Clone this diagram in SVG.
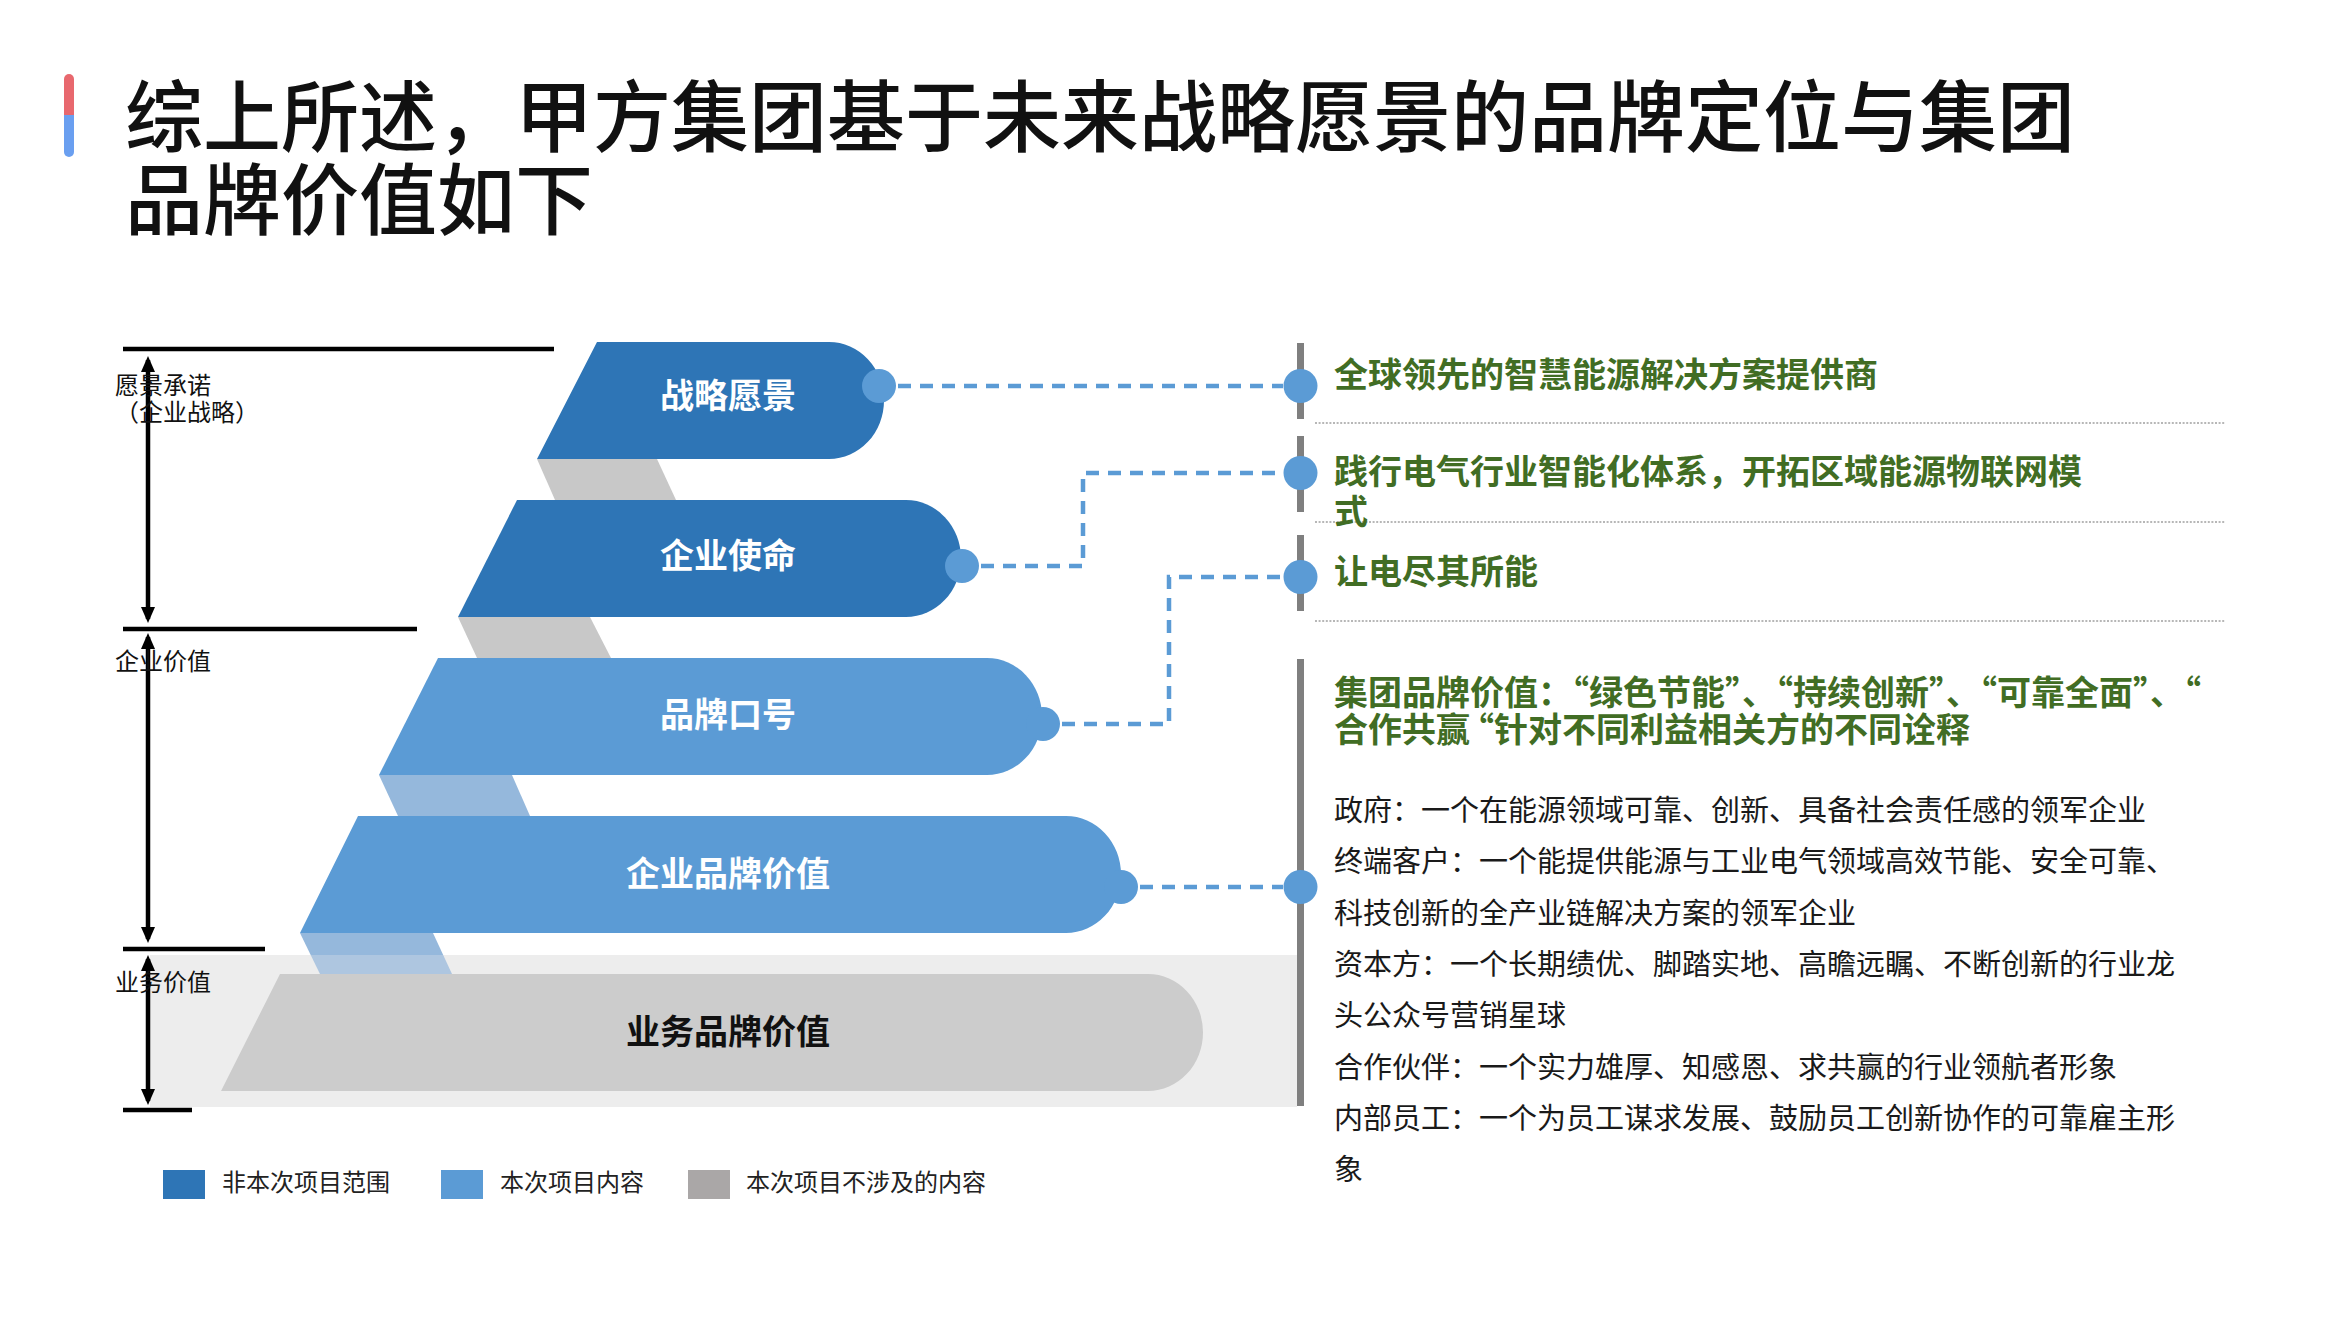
<svg xmlns="http://www.w3.org/2000/svg" width="2339" height="1317" viewBox="0 0 2339 1317">
<defs>
<style>
text{font-family:"Noto Sans CJK SC","Noto Sans",sans-serif;}
.title{font-size:78px;font-weight:500;fill:#111111;}
.lbl{font-size:24px;fill:#111111;}
.node-t{font-size:34px;font-weight:700;fill:#ffffff;text-anchor:middle;}
.node-dk{font-size:34px;font-weight:700;fill:#111111;text-anchor:middle;}
.green{font-size:34px;font-weight:700;fill:#416d24;}
.body{font-size:29px;fill:#1a1a1a;}
.leg{font-size:24px;fill:#222222;}
.dark{fill:#2e75b6;}
.light{fill:#5b9bd5;}
.grey{fill:#cccccc;}
.band-g{fill:#c8c8c8;}
.band-b{fill:#95b8dc;}
.dot{fill:#5b9bd5;}
.dash{fill:none;stroke:#5b9bd5;stroke-width:4.5;stroke-dasharray:13 9;}
.sep{stroke:#a0a0a0;stroke-width:1.6;stroke-dasharray:2 1.6;}
.vbar{stroke:#7f7f7f;stroke-width:7;}
.blk{stroke:#000000;stroke-width:4.5;}
.arr{stroke:#000000;stroke-width:4.5;marker-start:url(#ah);marker-end:url(#ah);}
</style>
<marker id="ah" viewBox="0 0 16 14" refX="12" refY="7" markerWidth="16" markerHeight="14" markerUnits="userSpaceOnUse" orient="auto-start-reverse">
<path d="M0,0 L16,7 L0,14 Z" fill="#000000"/>
</marker>
<linearGradient id="acc" x1="0" y1="0" x2="0" y2="1">
<stop offset="0" stop-color="#e8686e"/>
<stop offset="0.5" stop-color="#e8686e"/>
<stop offset="0.5" stop-color="#6a9ff0"/>
<stop offset="1" stop-color="#6a9ff0"/>
</linearGradient>
</defs>
<rect width="2339" height="1317" fill="#ffffff"/>

<g id="title">
<rect x="64" y="74" width="10" height="83" rx="5" fill="url(#acc)"/>
<text class="title" x="125" y="146">综上所述，甲方集团基于未来战略愿景的品牌定位与集团</text>
<text class="title" x="125" y="229">品牌价值如下</text>
</g>

<g id="background">
<rect x="150" y="955" width="1147" height="152" fill="#ededed"/>
</g>

<g id="bands">
<polygon class="band-g" points="537,459 657,459 676,500 555,500"/>
<polygon class="band-g" points="458,617 590,617 611,658 477,658"/>
<polygon class="band-b" points="379,775 512,775 530,816 398,816"/>
<polygon class="band-b" points="300,933 433,933 443.2,955 310.7,955"/>
<polygon fill="#aec6e0" points="310.7,955 443.2,955 452,974 320,974"/>
</g>

<g id="scale">
<line class="blk" x1="123" y1="349" x2="554" y2="349"/>
<line class="blk" x1="123" y1="629" x2="417" y2="629"/>
<line class="blk" x1="123" y1="949" x2="265" y2="949"/>
<line class="blk" x1="123" y1="1110" x2="192" y2="1110"/>
<line class="arr" x1="148" y1="360" x2="148" y2="619"/>
<line class="arr" x1="148" y1="637" x2="148" y2="939"/>
<line class="arr" x1="148" y1="959" x2="148" y2="1101"/>
<text class="lbl" x="115" y="394">愿景承诺</text>
<text class="lbl" x="115" y="421">（企业战略）</text>
<text class="lbl" x="115" y="670">企业价值</text>
<text class="lbl" x="115" y="991">业务价值</text>
</g>

<g id="node-zhanlue">
<path class="dark" d="M597,342 L829,342 A55,58.5 0 0 1 829,459 L537,459 Z"/>
<circle class="dot" cx="879" cy="386" r="17"/>
<text class="node-t" x="728" y="408">战略愿景</text>
</g>
<g id="node-shiming">
<path class="dark" d="M517,500 L906,500 A55,58.5 0 0 1 906,617 L458,617 Z"/>
<circle class="dot" cx="962" cy="566" r="17"/>
<text class="node-t" x="728" y="568">企业使命</text>
</g>
<g id="node-kouhao">
<path class="light" d="M438,658 L987,658 A55,58.5 0 0 1 987,775 L379,775 Z"/>
<circle class="dot" cx="1043" cy="724" r="17"/>
<text class="node-t" x="728" y="727">品牌口号</text>
</g>
<g id="node-qiyejiazhi">
<path class="light" d="M358,816 L1066,816 A55,58.5 0 0 1 1066,933 L300,933 Z"/>
<circle class="dot" cx="1121" cy="887" r="17"/>
<text class="node-t" x="728" y="886">企业品牌价值</text>
</g>
<g id="node-yewujiazhi">
<path class="grey" d="M280,974 L1148,974 A55,58.5 0 0 1 1148,1091 L221,1091 Z"/>
<text class="node-dk" x="728" y="1044">业务品牌价值</text>
</g>

<g id="connectors">
<path class="dash" d="M898,386 L1283,386"/>
<path class="dash" d="M981,566 L1083,566 L1083,473 L1283,473"/>
<path class="dash" d="M1062,724 L1169,724 L1169,577 L1283,577"/>
<path class="dash" d="M1140,887 L1283,887"/>
</g>

<g id="timeline">
<line class="vbar" x1="1300.5" y1="343" x2="1300.5" y2="419"/>
<line class="vbar" x1="1300.5" y1="436" x2="1300.5" y2="512"/>
<line class="vbar" x1="1300.5" y1="535" x2="1300.5" y2="611"/>
<line class="vbar" x1="1300.5" y1="659" x2="1300.5" y2="1106"/>
<circle class="dot" cx="1300.5" cy="386" r="17"/>
<circle class="dot" cx="1300.5" cy="473" r="17"/>
<circle class="dot" cx="1300.5" cy="577" r="17"/>
<circle class="dot" cx="1300.5" cy="887" r="17"/>
<line class="sep" x1="1315" y1="423" x2="2225" y2="423"/>
<line class="sep" x1="1315" y1="522" x2="2225" y2="522"/>
<line class="sep" x1="1315" y1="621" x2="2225" y2="621"/>
</g>

<g id="text-vision">
<text class="green" x="1334" y="387">全球领先的智慧能源解决方案提供商</text>
</g>
<g id="text-mission">
<text class="green" x="1334" y="484">践行电气行业智能化体系，开拓区域能源物联网模</text>
<text class="green" x="1334" y="524">式</text>
</g>
<g id="text-slogan">
<text class="green" x="1334" y="584">让电尽其所能</text>
</g>
<g id="text-value">
<text class="green" x="1334" y="705">集团品牌价值：“绿色节能”、“持续创新”、“可靠全面”、“</text>
<text class="green" x="1334" y="742">合作共赢<tspan dx="-10">“针对不同利益相关方的不同诠释</tspan></text>
<text class="body" x="1334" y="821">政府：一个在能源领域可靠、创新、具备社会责任感的领军企业</text>
<text class="body" x="1334" y="872">终端客户：一个能提供能源与工业电气领域高效节能、安全可靠、</text>
<text class="body" x="1334" y="924">科技创新的全产业链解决方案的领军企业</text>
<text class="body" x="1334" y="975">资本方：一个长期绩优、脚踏实地、高瞻远瞩、不断创新的行业龙</text>
<text class="body" x="1334" y="1026">头公众号营销星球</text>
<text class="body" x="1334" y="1078">合作伙伴：一个实力雄厚、知感恩、求共赢的行业领航者形象</text>
<text class="body" x="1334" y="1129">内部员工：一个为员工谋求发展、鼓励员工创新协作的可靠雇主形</text>
<text class="body" x="1334" y="1180">象</text>
</g>

<g id="legend">
<rect class="dark" x="163" y="1170" width="42" height="29"/>
<text class="leg" x="222" y="1191">非本次项目范围</text>
<rect class="light" x="441" y="1170" width="42" height="29"/>
<text class="leg" x="500" y="1191">本次项目内容</text>
<rect x="688" y="1170" width="42" height="29" fill="#aaa7a7"/>
<text class="leg" x="746" y="1191">本次项目不涉及的内容</text>
</g>
</svg>
